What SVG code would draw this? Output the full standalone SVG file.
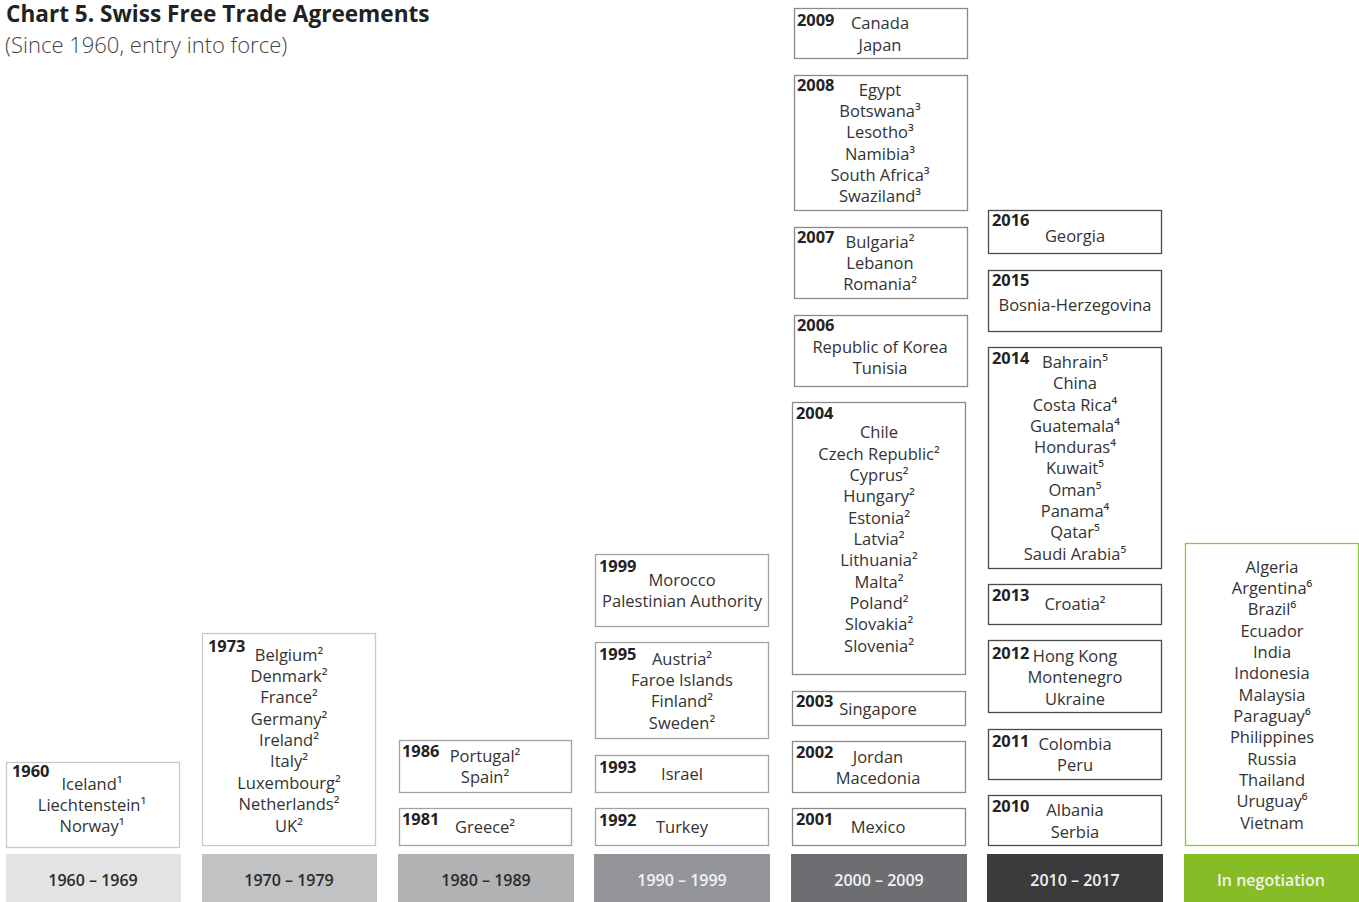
<svg xmlns="http://www.w3.org/2000/svg" width="1359" height="902" viewBox="0 0 1359 902">
  <style>
    .bg { fill: #ffffff; }
    .title { font-family: "Open Sans", "Noto Sans", sans-serif; font-weight: 700; font-size: 22.6px; fill: #222222; }
    .sub { font-family: "Open Sans", "Noto Sans", sans-serif; font-weight: 300; font-size: 22px; fill: #444444; }
    .box { fill: #ffffff; stroke-width: 1.3; }
    .c1 { stroke: #c9c9c9; }
    .c3 { stroke: #a3a3a3; }
    .c5 { stroke: #8a8a8a; }
    .c6 { stroke: #4a4a4a; }
    .c7 { stroke: #8cc63e; }
    .yr { font-family: "Open Sans", "Noto Sans", sans-serif; font-weight: 700; font-size: 16.4px; fill: #222222; }
    .ct { font-family: "Open Sans", "Noto Sans", sans-serif; font-size: 16.5px; fill: #333333; text-anchor: middle; }
    .bar-t { font-family: "Open Sans", "Noto Sans", sans-serif; font-weight: 650; font-size: 16px; text-anchor: middle; }
    .dk { fill: #2b2b2b; }
    .lt { fill: #f2f2f2; }
  </style>
  <rect class="bg" x="0" y="0" width="1359" height="902"/>

  <!-- heading -->
  <g id="heading">
    <text class="title" x="6" y="22">Chart 5. Swiss Free Trade Agreements</text>
    <text class="sub" x="5" y="53">(Since 1960, entry into force)</text>
  </g>

  <!-- decade bars along the bottom -->
  <g id="decade-bars">
    <rect x="6" y="854" width="175" height="48" fill="#e3e3e3"/>
    <text class="bar-t dk" x="93" y="886">1960 – 1969</text>
    <rect x="202" y="854" width="175" height="48" fill="#c1c2c3"/>
    <text class="bar-t dk" x="289" y="886">1970 – 1979</text>
    <rect x="398" y="854" width="176" height="48" fill="#b1b2b4"/>
    <text class="bar-t dk" x="486" y="886">1980 – 1989</text>
    <rect x="594" y="854" width="176" height="48" fill="#939598"/>
    <text class="bar-t lt" x="682" y="886">1990 – 1999</text>
    <rect x="791" y="854" width="176" height="48" fill="#6d6e71"/>
    <text class="bar-t lt" x="879" y="886">2000 – 2009</text>
    <rect x="987" y="854" width="176" height="48" fill="#3b3b3e"/>
    <text class="bar-t lt" x="1075" y="886">2010 – 2017</text>
    <rect x="1184" y="854" width="175" height="48" fill="#86bc25"/>
    <text class="bar-t lt" x="1271" y="886">In negotiation</text>
  </g>

  <!-- 1960s -->
  <g id="fta-1960">
    <rect class="box c1" x="6.5" y="762.5" width="173" height="85"/>
    <text class="yr" x="12" y="777">1960</text>
    <text class="ct" x="92" y="790">Iceland¹</text>
    <text class="ct" x="92" y="811">Liechtenstein¹</text>
    <text class="ct" x="92" y="832">Norway¹</text>
  </g>

  <!-- 1970s -->
  <g id="fta-1973">
    <rect class="box c1" x="202.5" y="633.5" width="173" height="212"/>
    <text class="yr" x="208" y="652">1973</text>
    <text class="ct" x="289" y="661">Belgium²</text>
    <text class="ct" x="289" y="682">Denmark²</text>
    <text class="ct" x="289" y="703">France²</text>
    <text class="ct" x="289" y="725">Germany²</text>
    <text class="ct" x="289" y="746">Ireland²</text>
    <text class="ct" x="289" y="767">Italy²</text>
    <text class="ct" x="289" y="789">Luxembourg²</text>
    <text class="ct" x="289" y="810">Netherlands²</text>
    <text class="ct" x="289" y="832">UK²</text>
  </g>

  <!-- 1980s -->
  <g id="fta-1986">
    <rect class="box c3" x="399.5" y="740.5" width="172" height="52"/>
    <text class="yr" x="402" y="757">1986</text>
    <text class="ct" x="485" y="762">Portugal²</text>
    <text class="ct" x="485" y="783">Spain²</text>
  </g>
  <g id="fta-1981">
    <rect class="box c3" x="399.5" y="808.5" width="172" height="37"/>
    <text class="yr" x="402" y="825">1981</text>
    <text class="ct" x="485" y="833">Greece²</text>
  </g>

  <!-- 1990s -->
  <g id="fta-1999">
    <rect class="box c3" x="595.5" y="554.5" width="173" height="72"/>
    <text class="yr" x="599" y="572">1999</text>
    <text class="ct" x="682" y="586">Morocco</text>
    <text class="ct" x="682" y="607">Palestinian Authority</text>
  </g>
  <g id="fta-1995">
    <rect class="box c3" x="595.5" y="642.5" width="173" height="96"/>
    <text class="yr" x="599" y="660">1995</text>
    <text class="ct" x="682" y="665">Austria²</text>
    <text class="ct" x="682" y="686">Faroe Islands</text>
    <text class="ct" x="682" y="707">Finland²</text>
    <text class="ct" x="682" y="729">Sweden²</text>
  </g>
  <g id="fta-1993">
    <rect class="box c3" x="595.5" y="755.5" width="173" height="37"/>
    <text class="yr" x="599" y="773">1993</text>
    <text class="ct" x="682" y="780">Israel</text>
  </g>
  <g id="fta-1992">
    <rect class="box c3" x="595.5" y="808.5" width="173" height="37"/>
    <text class="yr" x="599" y="826">1992</text>
    <text class="ct" x="682" y="833">Turkey</text>
  </g>

  <!-- 2000s -->
  <g id="fta-2009">
    <rect class="box c5" x="794.5" y="8.5" width="173" height="50"/>
    <text class="yr" x="797" y="26">2009</text>
    <text class="ct" x="880" y="29">Canada</text>
    <text class="ct" x="880" y="51">Japan</text>
  </g>
  <g id="fta-2008">
    <rect class="box c5" x="794.5" y="75.5" width="173" height="135"/>
    <text class="yr" x="797" y="91">2008</text>
    <text class="ct" x="880" y="96">Egypt</text>
    <text class="ct" x="880" y="117">Botswana³</text>
    <text class="ct" x="880" y="138">Lesotho³</text>
    <text class="ct" x="880" y="160">Namibia³</text>
    <text class="ct" x="880" y="181">South Africa³</text>
    <text class="ct" x="880" y="202">Swaziland³</text>
  </g>
  <g id="fta-2007">
    <rect class="box c5" x="794.5" y="227.5" width="173" height="71"/>
    <text class="yr" x="797" y="243">2007</text>
    <text class="ct" x="880" y="248">Bulgaria²</text>
    <text class="ct" x="880" y="269">Lebanon</text>
    <text class="ct" x="880" y="290">Romania²</text>
  </g>
  <g id="fta-2006">
    <rect class="box c5" x="794.5" y="315.5" width="173" height="71"/>
    <text class="yr" x="797" y="331">2006</text>
    <text class="ct" x="880" y="353">Republic of Korea</text>
    <text class="ct" x="880" y="374">Tunisia</text>
  </g>
  <g id="fta-2004">
    <rect class="box c5" x="792.5" y="402.5" width="173" height="272"/>
    <text class="yr" x="796" y="419">2004</text>
    <text class="ct" x="879" y="438">Chile</text>
    <text class="ct" x="879" y="460">Czech Republic²</text>
    <text class="ct" x="879" y="481">Cyprus²</text>
    <text class="ct" x="879" y="502">Hungary²</text>
    <text class="ct" x="879" y="524">Estonia²</text>
    <text class="ct" x="879" y="545">Latvia²</text>
    <text class="ct" x="879" y="566">Lithuania²</text>
    <text class="ct" x="879" y="588">Malta²</text>
    <text class="ct" x="879" y="609">Poland²</text>
    <text class="ct" x="879" y="630">Slovakia²</text>
    <text class="ct" x="879" y="652">Slovenia²</text>
  </g>
  <g id="fta-2003">
    <rect class="box c5" x="792.5" y="691.5" width="173" height="34"/>
    <text class="yr" x="796" y="707">2003</text>
    <text class="ct" x="878" y="715">Singapore</text>
  </g>
  <g id="fta-2002">
    <rect class="box c5" x="792.5" y="741.5" width="173" height="51"/>
    <text class="yr" x="796" y="758">2002</text>
    <text class="ct" x="878" y="763">Jordan</text>
    <text class="ct" x="878" y="784">Macedonia</text>
  </g>
  <g id="fta-2001">
    <rect class="box c5" x="792.5" y="808.5" width="173" height="37"/>
    <text class="yr" x="796" y="825">2001</text>
    <text class="ct" x="878" y="833">Mexico</text>
  </g>

  <!-- 2010s -->
  <g id="fta-2016">
    <rect class="box c6" x="988.5" y="210.5" width="173" height="43"/>
    <text class="yr" x="992" y="226">2016</text>
    <text class="ct" x="1075" y="242">Georgia</text>
  </g>
  <g id="fta-2015">
    <rect class="box c6" x="988.5" y="270.5" width="173" height="61"/>
    <text class="yr" x="992" y="286">2015</text>
    <text class="ct" x="1075" y="311">Bosnia-Herzegovina</text>
  </g>
  <g id="fta-2014">
    <rect class="box c6" x="988.5" y="347.5" width="173" height="221"/>
    <text class="yr" x="992" y="364">2014</text>
    <text class="ct" x="1075" y="368">Bahrain⁵</text>
    <text class="ct" x="1075" y="389">China</text>
    <text class="ct" x="1075" y="411">Costa Rica⁴</text>
    <text class="ct" x="1075" y="432">Guatemala⁴</text>
    <text class="ct" x="1075" y="453">Honduras⁴</text>
    <text class="ct" x="1075" y="474">Kuwait⁵</text>
    <text class="ct" x="1075" y="496">Oman⁵</text>
    <text class="ct" x="1075" y="517">Panama⁴</text>
    <text class="ct" x="1075" y="538">Qatar⁵</text>
    <text class="ct" x="1075" y="560">Saudi Arabia⁵</text>
  </g>
  <g id="fta-2013">
    <rect class="box c6" x="988.5" y="584.5" width="173" height="40"/>
    <text class="yr" x="992" y="601">2013</text>
    <text class="ct" x="1075" y="610">Croatia²</text>
  </g>
  <g id="fta-2012">
    <rect class="box c6" x="988.5" y="640.5" width="173" height="72"/>
    <text class="yr" x="992" y="659">2012</text>
    <text class="ct" x="1075" y="662">Hong Kong</text>
    <text class="ct" x="1075" y="683">Montenegro</text>
    <text class="ct" x="1075" y="705">Ukraine</text>
  </g>
  <g id="fta-2011">
    <rect class="box c6" x="988.5" y="729.5" width="173" height="50"/>
    <text class="yr" x="992" y="747">2011</text>
    <text class="ct" x="1075" y="750">Colombia</text>
    <text class="ct" x="1075" y="771">Peru</text>
  </g>
  <g id="fta-2010">
    <rect class="box c6" x="988.5" y="795.5" width="173" height="50"/>
    <text class="yr" x="992" y="812">2010</text>
    <text class="ct" x="1075" y="816">Albania</text>
    <text class="ct" x="1075" y="838">Serbia</text>
  </g>

  <!-- negotiations in progress -->
  <g id="in-negotiation">
    <rect class="box c7" x="1185.5" y="543.5" width="173" height="302"/>
    <text class="ct" x="1272" y="573">Algeria</text>
    <text class="ct" x="1272" y="594">Argentina⁶</text>
    <text class="ct" x="1272" y="615">Brazil⁶</text>
    <text class="ct" x="1272" y="637">Ecuador</text>
    <text class="ct" x="1272" y="658">India</text>
    <text class="ct" x="1272" y="679">Indonesia</text>
    <text class="ct" x="1272" y="701">Malaysia</text>
    <text class="ct" x="1272" y="722">Paraguay⁶</text>
    <text class="ct" x="1272" y="743">Philippines</text>
    <text class="ct" x="1272" y="765">Russia</text>
    <text class="ct" x="1272" y="786">Thailand</text>
    <text class="ct" x="1272" y="807">Uruguay⁶</text>
    <text class="ct" x="1272" y="829">Vietnam</text>
  </g>
</svg>
